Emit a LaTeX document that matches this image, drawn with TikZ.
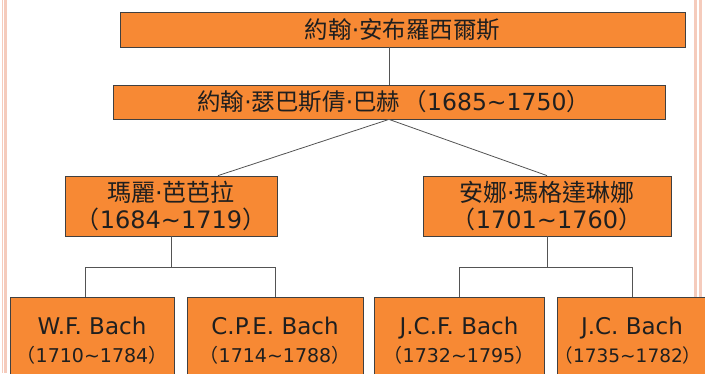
\documentclass[tikz,border=0pt]{standalone}
\usepackage{fontspec}
\setmainfont{DejaVu Sans}
\newfontfamily\cjk{Noto Sans CJK TC}
\usetikzlibrary{calc}
\definecolor{boxorange}{RGB}{247,137,52}
\definecolor{edgegray}{RGB}{64,64,64}
\definecolor{framepink}{RGB}{245,203,188}
\newcommand{\yrs}[2]{{\cjk\kern-.4em （}#1\textasciitilde#2{\cjk ）\kern-.4em}}

\begin{document}
\begin{tikzpicture}[x=1bp, y=-1bp,
    person/.style={rectangle, draw=edgegray, fill=boxorange, line width=0.8bp, inner sep=0pt, align=center, text=black!88},
    parent/.style={person, minimum height=60bp, font=\fontsize{24bp}{27bp}\selectfont},
    child/.style={person, minimum height=88bp, font=\fontsize{23bp}{28bp}\selectfont},
    link/.style={draw=edgegray!90, line width=0.8bp},
    ]
    \clip (0,0) rectangle (705,373);

    % Slide frame
    \draw[framepink, line width=1.5bp] (2.5,0) -- (2.5,373);
    \draw[framepink, line width=2.5bp] (5.5,0) -- (5.5,373);
    \draw[framepink, line width=2.5bp] (695.5,0) -- (695.5,373);
    \draw[framepink, line width=2.5bp] (700.5,0) -- (700.5,373);

    % Grandfather and father
    \node[person, minimum width=565bp, minimum height=35bp, font=\fontsize{23.5bp}{27bp}\selectfont] (ambrosius) at (402.5,29.5) {{\cjk 約翰}·{\cjk 安布羅西爾斯}};
    \node[person, minimum width=552bp, minimum height=34bp, font=\fontsize{23.5bp}{27bp}\selectfont] (sebastian) at (389,102) {{\cjk 約翰}·{\cjk 瑟巴斯倩}·{\cjk 巴赫 } \yrs{1685}{1750}};
    \draw[link] (sebastian.north) -- (sebastian.north |- ambrosius.south);

    % Wives
    \node[parent, minimum width=212bp] (maria) at (171,206) {{\cjk 瑪麗}·{\cjk 芭芭拉}\\\yrs{1684}{1719}};
    \node[parent, minimum width=248bp] (anna) at (547,206) {{\cjk 安娜}·{\cjk 瑪格達琳娜}\\\yrs{1701}{1760}};
    \draw[link] (sebastian.south) -- ($(maria.north)+(47,0)$);
    \draw[link] (sebastian.south) -- (anna.north);

    % Sons
    \node[child, minimum width=164bp] (wfbach) at (92,341) {W.F. Bach\\{\fontsize{19bp}{19bp}\selectfont\yrs{1710}{1784}}};
    \node[child, minimum width=176bp] (cpebach) at (275,341) {C.P.E. Bach\\{\fontsize{19bp}{19bp}\selectfont\yrs{1714}{1788}}};
    \node[child, minimum width=170bp] (jcfbach) at (459,341) {J.C.F. Bach\\{\fontsize{19bp}{19bp}\selectfont\yrs{1732}{1795}}};
    \node[child, minimum width=150bp] (jcbach) at (632,341) {J.C. Bach\\{\fontsize{18.5bp}{19bp}\selectfont\yrs{1735}{1782}\kern8bp}};

    \draw[link] (maria.south) -- ++(0,31) -| ($(wfbach.north)+(-7,0)$);
    \draw[link] (maria.south) ++(0,31) -| (cpebach.north);
    \draw[link] (anna.south) -- ++(0,31) -| (jcfbach.north);
    \draw[link] (anna.south) ++(0,31) -| (jcbach.north);
\end{tikzpicture}
\end{document}
